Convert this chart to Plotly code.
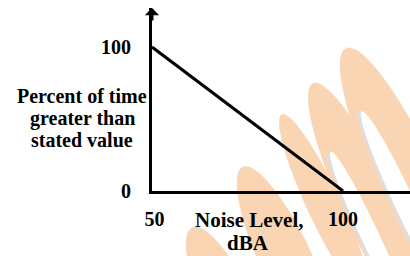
import numpy as np
import plotly.graph_objects as go

# ---- data ----
noise_level = [50, 100]          # dBA
percent_time = [100, 0]          # percent of time greater than stated value
x_tick_vals = [50, 100]
x_tick_text = ["&nbsp;50", "100"]
y_tick_vals = [0, 100]
y_tick_text = ["0", "100"]

W, H = 410, 256
ML, MR, MT, MB = 152, 0, 8, 65
PW, PH = W - ML - MR, H - MT - MB
FONT = "Liberation Serif"

fig = go.Figure()
fig.add_trace(go.Scatter(x=noise_level, y=percent_time, mode="lines",
                         line=dict(color="black", width=3), hoverinfo="skip"))

# ---- faint watermark bands (decoration) ----
def px2paper(px, py):
    return (px - ML) / PW, (H - MB - py) / PH

def ellipse_path(cx, cy, a, b, theta_deg, n=72):
    t = np.linspace(0, 2 * np.pi, n)
    th = np.radians(theta_deg)
    u = np.array([np.sin(th), np.cos(th)])
    v = np.array([np.cos(th), -np.sin(th)])
    pts = []
    for tt in t:
        p = np.array([cx, cy]) + b * np.cos(tt) * u + a * np.sin(tt) * v
        xp, yp = px2paper(p[0], p[1])
        pts.append(f"{xp:.4f},{yp:.4f}")
    return "M" + " L".join(pts) + " Z"

ORANGE, SHADOW = "#F9D5B4", "#DEDEDE"
bands = [
    (226, 300, 24, 80),
    (287, 262, 26, 105),
    (324, 205, 17, 100),
    (372, 210, 27, 140),
    (405, 175, 30, 140),
]
for cx, cy, a, b in bands:
    fig.add_shape(type="path", path=ellipse_path(cx, cy, a, b, 25),
                  xref="paper", yref="paper", layer="below",
                  fillcolor=ORANGE, line=dict(width=0))
holes = [
    (371, 238, 9, 95),
    (404, 202, 10, 100),
]
for cx, cy, a, b in holes:
    fig.add_shape(type="path", path=ellipse_path(cx - 3, cy, a, b, 25),
                  xref="paper", yref="paper", layer="below",
                  fillcolor=SHADOW, line=dict(width=0))
    fig.add_shape(type="path", path=ellipse_path(cx, cy, a, b, 25),
                  xref="paper", yref="paper", layer="below",
                  fillcolor="white", line=dict(width=0))

# axis arrowhead on the y axis
fig.add_annotation(x=50, y=127, xref="x", yref="y", ax=0, ay=14,
                   showarrow=True, arrowhead=1, arrowsize=0.8, arrowwidth=3,
                   arrowcolor="black", text="")

tick_font = dict(family=FONT, size=20, color="black", weight="bold")
fig.update_layout(
    width=W, height=H,
    margin=dict(l=ML, r=MR, t=MT, b=MB),
    paper_bgcolor="white", plot_bgcolor="rgba(0,0,0,0)",
    showlegend=False,
    xaxis=dict(range=[50, 50 + PW / (191 / 50)], showgrid=False, zeroline=False,
               showline=True, linecolor="black", linewidth=3,
               tickvals=x_tick_vals, ticktext=x_tick_text, ticks="",
               ticklabelstandoff=8, tickfont=tick_font),
    yaxis=dict(range=[0, PH / 1.44], showgrid=False, zeroline=False,
               showline=True, linecolor="black", linewidth=3,
               tickvals=y_tick_vals, ticktext=y_tick_text, ticks="",
               ticklabelstandoff=14, tickfont=tick_font),
)

ylab_font = dict(family=FONT, size=20, color="black", weight="bold")
for txt, py in [("Percent of time", 96), ("greater than", 118), ("stated value", 140)]:
    xp, yp = px2paper(82, py)
    fig.add_annotation(x=xp, y=yp, xref="paper", yref="paper", text=txt,
                       showarrow=False, xanchor="center", yanchor="middle", font=ylab_font)
xlab_font = dict(family=FONT, size=21, color="black", weight="bold")
for txt, px_, py in [("Noise Level,", 249, 220), ("dBA", 248, 243)]:
    xp, yp = px2paper(px_, py)
    fig.add_annotation(x=xp, y=yp, xref="paper", yref="paper", text=txt,
                       showarrow=False, xanchor="center", yanchor="middle", font=xlab_font)

fig.write_html("out.html", config={"displayModeBar": False},
               post_script="document.body.style.margin='0px';")
